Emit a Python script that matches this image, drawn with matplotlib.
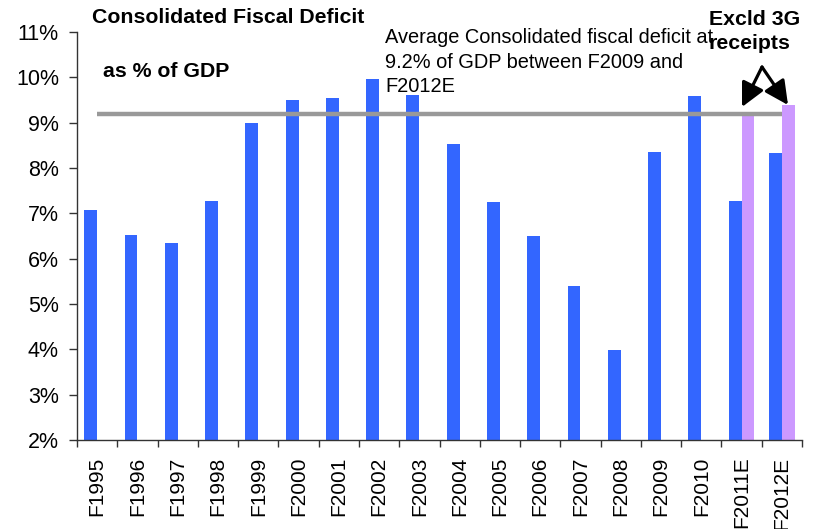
import numpy as np
import matplotlib
matplotlib.use("Agg")
import matplotlib.pyplot as plt
from matplotlib.ticker import FixedLocator, FuncFormatter

plt.rcParams['font.family'] = ['Liberation Sans', 'DejaVu Sans']

# Fiscal years and consolidated fiscal deficit (% of GDP)
years = ["F1995", "F1996", "F1997", "F1998", "F1999", "F2000", "F2001", "F2002",
         "F2003", "F2004", "F2005", "F2006", "F2007", "F2008", "F2009", "F2010",
         "F2011E", "F2012E"]
deficit = [7.08, 6.53, 6.34, 7.28, 9.00, 9.50, 9.54, 9.96, 9.60, 8.53, 7.26,
           6.50, 5.39, 3.99, 8.35, 9.58, 7.27, 8.33]
# Deficit excluding 3G spectrum receipts (estimates only)
deficit_excl_3g = [np.nan] * 16 + [9.20, 9.38]
avg_deficit = 9.2
y_ticks = [2, 3, 4, 5, 6, 7, 8, 9, 10, 11]

W, H = 817, 529
fig = plt.figure(figsize=(W / 100, H / 100), dpi=100)
ax = fig.add_axes([77 / W, 1 - 440 / H, (802 - 77) / W, (440 - 32) / H])


def px(x, y):
    """Figure pixel position (origin top-left) to figure fraction."""
    return x / W, 1 - y / H


x = np.arange(len(years))
bw = 0.32
ax.bar(x - bw / 2, deficit, width=bw, color="#3366FF", zorder=2)
ax.bar(x + bw / 2, deficit_excl_3g, width=bw, color="#CC99FF", zorder=2)

# Average over F2009-F2012E drawn across the full period
ax.plot(x[[0, -1]], [avg_deficit, avg_deficit], color="#999999", lw=3.2,
        solid_capstyle="butt", zorder=3)

ax.set_ylim(2, 11)
ax.set_xlim(-0.5, len(years) - 0.5)
ax.set_yticks(y_ticks)
ax.yaxis.set_major_formatter(FuncFormatter(lambda v, p: f"{v:.0f}%"))

# Category labels at bar centres, tick marks at category boundaries
ax.xaxis.set_major_locator(FixedLocator(x))
ax.set_xticklabels(years, rotation=90, va="top", ha="center")
ax.xaxis.set_minor_locator(FixedLocator(np.arange(len(years) + 1) - 0.5))
ax.tick_params(axis="x", which="major", length=0, pad=12, labelsize=15)
ax.tick_params(axis="x", which="minor", length=5, width=1, direction="out",
               color="#333333")
ax.tick_params(axis="y", length=6, width=1, pad=7, labelsize=15.5,
               color="#333333")

for s in ["top", "right"]:
    ax.spines[s].set_visible(False)
for s in ["left", "bottom"]:
    ax.spines[s].set_color("#333333")
    ax.spines[s].set_linewidth(1)

fig.text(*px(92, 23), "Consolidated Fiscal Deficit", fontsize=15.3,
         fontweight="bold", va="baseline", ha="left")
fig.text(*px(103, 77), "as % of GDP", fontsize=15.3, fontweight="bold",
         va="baseline", ha="left")
fig.text(*px(385, 92), "Average Consolidated fiscal deficit at\n"
         "9.2% of GDP between F2009 and\nF2012E", fontsize=14.4,
         va="baseline", ha="left", linespacing=1.36)
fig.text(*px(709, 49), "Excld 3G\nreceipts", fontsize=15.3, fontweight="bold",
         va="baseline", ha="left", linespacing=1.33)

arrow_kw = dict(arrowstyle="-|>,head_length=0.9,head_width=0.45", lw=2.3,
                color="black", shrinkA=0, shrinkB=0, mutation_scale=16)
for tip in [(742, 107), (788, 105)]:
    ax.annotate("", xy=px(*tip), xycoords="figure fraction",
                xytext=px(762, 67), textcoords="figure fraction",
                arrowprops=arrow_kw, zorder=5)

fig.savefig("out.png", dpi=100)
